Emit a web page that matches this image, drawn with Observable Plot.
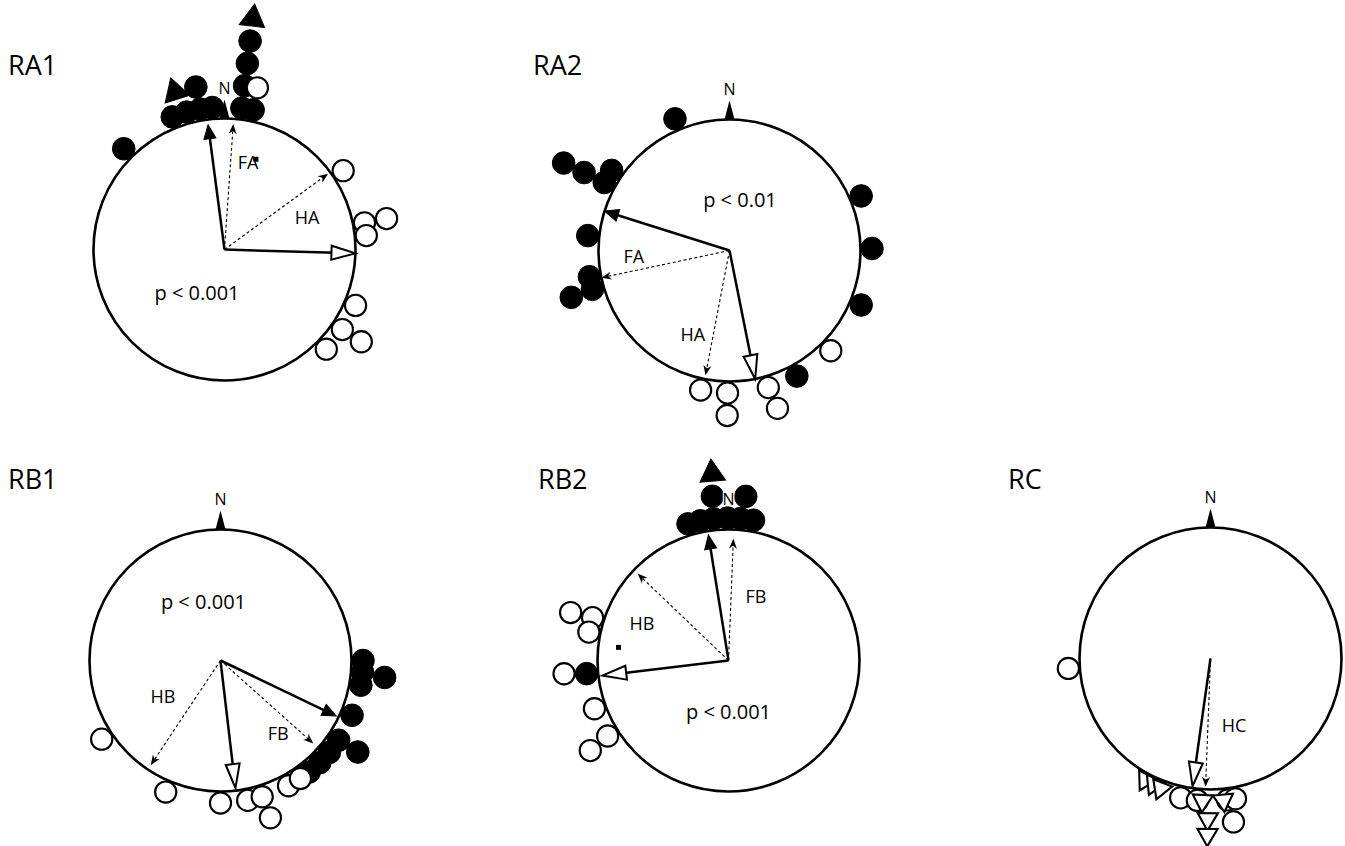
<!DOCTYPE html>
<html><head><meta charset="utf-8">
<script src="https://cdn.jsdelivr.net/npm/d3@7"></script>
<script src="https://cdn.jsdelivr.net/npm/@observablehq/plot@0.6"></script>
<style>
html,body{margin:0;padding:0;background:#fff;overflow:hidden;}
#page{position:relative;width:1345px;height:846px;overflow:hidden;font-family:"Open Sans",sans-serif;}
.ttl{position:absolute;font-size:27px;line-height:1;color:#000;white-space:nowrap;}
</style></head><body><div id="page"></div>
<script>
// ---------------- DATA ----------------
// a = bearing in degrees clockwise from N, k = stack level outside the circle
// g = group ("F" filled, "H" open), s = symbol ("o" circle, "t" triangle)
const panelNames = ["RA1", "RA2", "RB1", "RB2", "RC"];
const pLabels = ["p < 0.001", "p < 0.01", "p < 0.001", "p < 0.001", ""];

const ra1Points = [
  {a:315,k:0,g:"F",s:"o"},{a:338.5,k:0,g:"F",s:"o"},{a:344.6,k:0,g:"F",s:"o"},{a:350.2,k:0,g:"F",s:"o"},
  {a:355.1,k:0,g:"F",s:"o"},{a:7,k:0,g:"F",s:"o"},{a:7,k:1,g:"F",s:"o"},{a:7,k:2,g:"F",s:"o"},
  {a:7,k:3,g:"F",s:"o"},{a:11.6,k:0,g:"F",s:"o"},{a:350,k:1,g:"F",s:"o"},
  {a:7,k:4,g:"F",s:"t"},{a:342.6,k:1,g:"F",s:"t"},
  {a:56.4,k:0,g:"H",s:"o"},{a:79.2,k:0,g:"H",s:"o"},{a:79.2,k:1,g:"H",s:"o"},{a:84.4,k:0,g:"H",s:"o"},
  {a:113.1,k:0,g:"H",s:"o"},{a:124.2,k:0,g:"H",s:"o"},{a:124,k:1,g:"H",s:"o"},{a:134.4,k:0,g:"H",s:"o"},
  {a:11.5,k:1,g:"H",s:"o"}
];
const ra2Points = [
  {a:337.5,k:0,g:"F",s:"o"},{a:297.8,k:2,g:"F",s:"o"},{a:298.2,k:1,g:"F",s:"o"},{a:304.2,k:0,g:"F",s:"o"},
  {a:298.5,k:0,g:"F",s:"o"},{a:276,k:0,g:"F",s:"o"},{a:259.4,k:0,g:"F",s:"o"},{a:253.5,k:1,g:"F",s:"o"},
  {a:254.2,k:0,g:"F",s:"o"},{a:67.5,k:0,g:"F",s:"o"},{a:89.2,k:0,g:"F",s:"o"},{a:112.5,k:0,g:"F",s:"o"},
  {a:151.8,k:0,g:"F",s:"o"},
  {a:134.7,k:0,g:"H",s:"o"},{a:191.7,k:0,g:"H",s:"o"},{a:180.8,k:0,g:"H",s:"o"},{a:180.8,k:1,g:"H",s:"o"},
  {a:164.2,k:0,g:"H",s:"o"},{a:163.1,k:1,g:"H",s:"o"}
];
const rb1Points = [
  {a:90,k:0,g:"F",s:"o"},{a:94.7,k:0,g:"F",s:"o"},{a:100,k:0,g:"F",s:"o"},{a:95.9,k:1,g:"F",s:"o"},
  {a:112.6,k:0,g:"F",s:"o"},{a:123.7,k:1,g:"F",s:"o"},{a:124,k:0,g:"F",s:"o"},{a:130.2,k:0,g:"F",s:"o"},
  {a:135.8,k:0,g:"F",s:"o"},{a:141.5,k:0,g:"F",s:"o"},
  {a:236.5,k:0,g:"H",s:"o"},{a:202.6,k:0,g:"H",s:"o"},{a:180,k:0,g:"H",s:"o"},{a:169,k:0,g:"H",s:"o"},
  {a:163,k:0,g:"H",s:"o"},{a:162.4,k:1,g:"H",s:"o"},{a:151.5,k:0,g:"H",s:"o"},{a:145.9,k:0,g:"H",s:"o"}
];
const rb2Points = [
  {a:343.5,k:0,g:"F",s:"o"},{a:348.6,k:0,g:"F",s:"o"},{a:353.9,k:0,g:"F",s:"o"},{a:359.6,k:0,g:"F",s:"o"},
  {a:4.8,k:0,g:"F",s:"o"},{a:10.1,k:0,g:"F",s:"o"},{a:354.4,k:1,g:"F",s:"o"},{a:6,k:1,g:"F",s:"o"},
  {a:264.7,k:0,g:"F",s:"o"},{a:355,k:2,g:"F",s:"t"},
  {a:286.9,k:1,g:"H",s:"o"},{a:287.5,k:0,g:"H",s:"o"},{a:281.5,k:0,g:"H",s:"o"},{a:265.4,k:1,g:"H",s:"o"},
  {a:250.2,k:0,g:"H",s:"o"},{a:238,k:0,g:"H",s:"o"},{a:236.9,k:1,g:"H",s:"o"}
];
const rcPoints = [
  {a:266,k:0,g:"H",s:"o"},{a:192.1,k:0,g:"H",s:"o"},{a:185.3,k:0,g:"H",s:"o"},{a:173.1,k:0,g:"H",s:"o"},
  {a:169.9,k:0,g:"H",s:"o"},{a:172,k:1,g:"H",s:"o"},
  {a:183.2,k:0,g:"H",s:"t"},{a:174.8,k:0,g:"H",s:"t"},{a:181,k:0.8,g:"H",s:"t"},{a:181,k:1.5,g:"H",s:"t"},
  {a:208.2,k:-0.2,g:"H",s:"t"},{a:204.3,k:-0.2,g:"H",s:"t"},{a:201,k:-0.15,g:"H",s:"t"}
];

// mean vectors (solid): a = bearing, len = vector length (circle radius = 1)
const ra1Means = [{a:352.5,len:0.96,g:"F"},{a:91.7,len:1.0,g:"H"}];
const ra2Means = [{a:287.5,len:1.0,g:"F"},{a:168.7,len:1.0,g:"H"}];
const rb1Means = [{a:115.6,len:0.98,g:"F"},{a:173.3,len:0.98,g:"H"}];
const rb2Means = [{a:350.9,len:0.97,g:"F"},{a:263.2,len:0.97,g:"H"}];
const rcMeans  = [{a:188,len:0.985,g:"H"}];

// reference vectors (dashed)
const ra1Refs = [{a:4,len:0.96,name:"FA",lx:0.18,ly:0.66},{a:53.8,len:0.98,name:"HA",lx:0.63,ly:0.24}];
const ra2Refs = [{a:258,len:1.0,name:"FA",lx:-0.73,ly:-0.05},{a:190.9,len:0.97,name:"HA",lx:-0.28,ly:-0.65}];
const rb1Refs = [{a:131.8,len:0.95,name:"FB",lx:0.44,ly:-0.56},{a:213.7,len:0.96,name:"HB",lx:-0.44,ly:-0.28}];
const rb2Refs = [{a:2.3,len:0.93,name:"FB",lx:0.21,ly:0.48},{a:313.7,len:0.96,name:"HB",lx:-0.66,ly:0.28}];
const rcRefs  = [{a:182.2,len:0.98,name:"HC",lx:0.18,ly:-0.52}];

// small square markers
const ra1Squares = [{a:19.2,d:0.73}];
const rb2Squares = [{a:276.8,d:0.846}];

// p-label positions (circle units)
const pLabelPos = [{x:-0.21,y:-0.34},{x:0.08,y:0.38},{x:-0.13,y:0.44},{x:0,y:-0.40},{x:0,y:0}];

// ---------------- LAYOUT ----------------
const R = 131;          // circle radius in px
const SIZE = 620;
const HALF = SIZE / 2 / R;
const centers = [[224,249],[729,250],[220,660],[728,660],[1210,658]];
const titlePos = [[8,51],[533,51],[8,465],[538,465],[1008,465]];

const ring = k => 1 + (11.5 + 22.5 * k) / R;
const rad = a => a * Math.PI / 180;
const px = (a, d) => d * Math.sin(rad(a));
const py = (a, d) => d * Math.cos(rad(a));

const head = (L, w, notch) => ({draw(ctx) {
  ctx.moveTo(0, 0); ctx.lineTo(w / 2, L);
  if (notch) ctx.lineTo(0, L - notch);
  ctx.lineTo(-w / 2, L); ctx.closePath();
}});
const tickSym = head(19, 10, 0);
const filledHead = head(14, 12, 0);
const openHead = head(24, 14, 0);
const dashHead = head(10, 8, 3);

const FONT = "'Open Sans', sans-serif";
const page = document.getElementById("page");

const allPoints = [ra1Points, ra2Points, rb1Points, rb2Points, rcPoints];
const allMeans = [ra1Means, ra2Means, rb1Means, rb2Means, rcMeans];
const allRefs = [ra1Refs, ra2Refs, rb1Refs, rb2Refs, rcRefs];
const allSquares = [ra1Squares, [], [], rb2Squares, []];

panelNames.forEach((name, i) => {
  const pts = allPoints[i].map(d => ({...d, x: px(d.a, ring(d.k)), y: py(d.a, ring(d.k))}));
  const means = allMeans[i], refs = allRefs[i];
  const pl = pLabels[i] ? [{t: pLabels[i], ...pLabelPos[i]}] : [];
  const marks = [
    Plot.dot([{x:0,y:0}], {x:"x", y:"y", r:R, fill:"none", stroke:"black", strokeWidth:2.6}),
    Plot.dot([{x:0,y:1 + 19 / R}], {x:"x", y:"y", symbol:tickSym, fill:"black", stroke:"none"}),
    Plot.dot(pts.filter(d => d.g === "F" && d.s === "o"), {x:"x", y:"y", r:11.3, fill:"black", stroke:"black", strokeWidth:1}),
    Plot.dot(pts.filter(d => d.g === "F" && d.s === "t"), {x:"x", y:"y", symbol:"triangle", r:9.5, rotate:d => d.a, fill:"black", stroke:"black", strokeWidth:1}),
    Plot.dot(pts.filter(d => d.g === "H" && d.s === "o"), {x:"x", y:"y", r:10.6, fill:"white", stroke:"black", strokeWidth:2.1}),
    Plot.dot(pts.filter(d => d.g === "H" && d.s === "t"), {x:"x", y:"y", symbol:"triangle", r:7.5, rotate:d => d.a, fill:"white", stroke:"black", strokeWidth:2.1}),
    Plot.dot(allSquares[i], {x:d => px(d.a, d.d), y:d => py(d.a, d.d), symbol:"square", r:2.8, fill:"black"}),
    Plot.link(refs, {x1:() => 0, y1:() => 0, x2:d => px(d.a, d.len - 6 / R), y2:d => py(d.a, d.len - 6 / R), stroke:"black", strokeWidth:1.1, strokeDasharray:"3,2.5"}),
    Plot.dot(refs, {x:d => px(d.a, d.len), y:d => py(d.a, d.len), rotate:d => d.a, symbol:dashHead, fill:"black", stroke:"none"}),
    Plot.link(means, {x1:() => 0, y1:() => 0, x2:d => px(d.a, d.len - (d.g === "F" ? 8 : 20) / R), y2:d => py(d.a, d.len - (d.g === "F" ? 8 : 20) / R), stroke:"black", strokeWidth:2.5}),
    Plot.dot(means.filter(d => d.g === "F"), {x:d => px(d.a, d.len), y:d => py(d.a, d.len), rotate:d => d.a, symbol:filledHead, fill:"black", stroke:"black", strokeWidth:1}),
    Plot.dot(means.filter(d => d.g === "H"), {x:d => px(d.a, d.len), y:d => py(d.a, d.len), rotate:d => d.a, symbol:openHead, fill:"white", stroke:"black", strokeWidth:2}),
    Plot.text(refs, {x:"lx", y:"ly", text:"name", fontSize:18, fontFamily:FONT, fill:"black"}),
    Plot.text(pl, {x:"x", y:"y", text:"t", fontSize:20, fontFamily:FONT, fill:"black"}),
    Plot.text([{t:"N", x:0, y:1.225}], {x:"x", y:"y", text:"t", fontSize:16, fontFamily:FONT, fill:"black", stroke:"white", strokeWidth:2.5})
  ];
  const svg = Plot.plot({
    width: SIZE, height: SIZE, margin: 0,
    x: {domain: [-HALF, HALF], axis: null},
    y: {domain: [-HALF, HALF], axis: null},
    style: {background: "transparent", overflow: "visible", fontFamily: FONT},
    marks
  });
  svg.style.position = "absolute";
  svg.style.left = (centers[i][0] - SIZE / 2) + "px";
  svg.style.top = (centers[i][1] - SIZE / 2) + "px";
  svg.style.maxWidth = "none";
  page.appendChild(svg);

  const t = document.createElement("div");
  t.className = "ttl";
  t.textContent = name;
  t.style.left = titlePos[i][0] + "px";
  t.style.top = titlePos[i][1] + "px";
  page.appendChild(t);
});
</script></body></html>
